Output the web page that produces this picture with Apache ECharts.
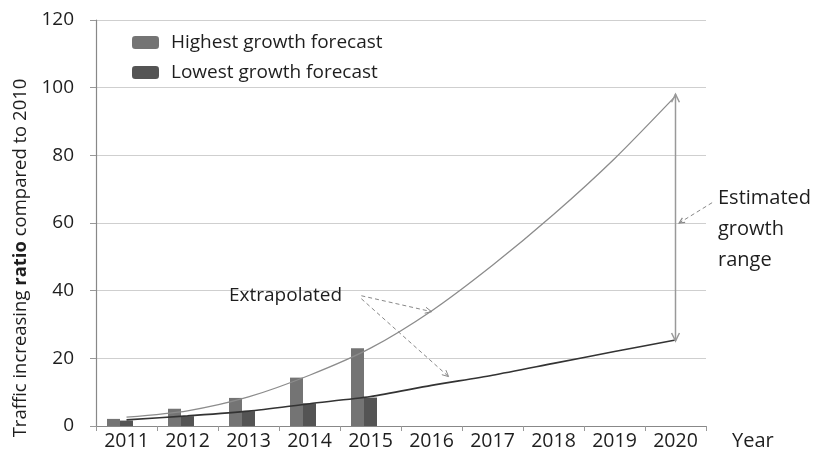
<!DOCTYPE html>
<html>
<head>
<meta charset="utf-8">
<script src="https://cdn.jsdelivr.net/npm/echarts@6/dist/echarts.min.js"></script>
<style>
html,body{margin:0;padding:0;background:#fff;}
#c{width:822px;height:468px;}
</style>
</head>
<body>
<div id="c"></div>
<script>
const years = ['2011','2012','2013','2014','2015','2016','2017','2018','2019','2020'];
const highestBars = [2.1, 5.1, 8.3, 14.3, 23.0];
const lowestBars = [1.6, 2.9, 4.4, 6.7, 8.4];
const upperLine = [2.6, 4.5, 8.6, 15.0, 23.0, 34.0, 47.5, 62.5, 79.0, 97.5];
const lowerLine = [1.8, 3.0, 4.4, 6.6, 8.7, 12.0, 15.0, 18.5, 22.0, 25.4];
const yTicks = [0, 120, 20];

const FONT = 'Open Sans';
const TXT = '#1e1e1e';
const chart = echarts.init(document.getElementById('c'));
chart.setOption({
  animation: false,
  backgroundColor: '#fff',
  textStyle: {fontFamily: FONT},
  grid: {left: 96, right: 116, top: 20, bottom: 42},
  legend: {
    orient: 'vertical', left: 127, top: 28,
    itemWidth: 27, itemHeight: 13, itemGap: 11,
    data: ['Highest growth forecast', 'Lowest growth forecast'],
    textStyle: {fontFamily: FONT, fontSize: 19, color: TXT, padding: [0,0,0,7]}
  },
  xAxis: {
    type: 'category', data: years, boundaryGap: true,
    name: 'Year', nameLocation: 'end', nameGap: 26,
    nameTextStyle: {fontFamily: FONT, fontSize: 20, color: TXT, verticalAlign: 'top', padding: [5,0,0,0]},
    axisLine: {lineStyle: {color: '#888', width: 1.2}},
    axisTick: {show: true, length: 5, lineStyle: {color: '#999'}},
    axisLabel: {fontFamily: FONT, fontSize: 19.5, color: TXT, margin: 5},
    splitLine: {show: false}
  },
  yAxis: {
    type: 'value', min: yTicks[0], max: yTicks[1], interval: yTicks[2],
    name: '{a|Traffic increasing }{b|ratio}{a| compared to 2010}',
    nameLocation: 'middle', nameGap: 60, nameRotate: 90,
    nameTextStyle: {fontFamily: FONT, fontSize: 18.5, color: TXT, padding: [0, 70, 0, 0],
      rich: {a: {fontFamily: FONT, fontSize: 18.5, color: TXT},
             b: {fontFamily: FONT, fontSize: 18.5, color: TXT, fontWeight: 'bold'}}},
    axisLine: {show: true, lineStyle: {color: '#888', width: 1.2}},
    axisTick: {show: true, length: 6, lineStyle: {color: '#999'}},
    axisLabel: {fontFamily: FONT, fontSize: 19, color: TXT, margin: 22},
    splitLine: {lineStyle: {color: '#cfcfcf', width: 1}}
  },
  series: [
    {name: 'Highest growth forecast', type: 'bar', data: highestBars, barWidth: 13, barGap: '0%',
     itemStyle: {color: '#747474'}},
    {name: 'Lowest growth forecast', type: 'bar', data: lowestBars, barWidth: 13, barGap: '0%',
     itemStyle: {color: '#545454'}},
    {name: 'spacer', type: 'bar', data: [], barWidth: 13, barGap: '0%'},
    {name: 'upper', type: 'line', data: upperLine, smooth: 0.25, showSymbol: false, z: 5,
     lineStyle: {color: '#8c8c8c', width: 1.3}},
    {name: 'lower', type: 'line', data: lowerLine, smooth: 0.25, showSymbol: false, z: 5,
     lineStyle: {color: '#333', width: 1.6}}
  ]
});

function px(i, v) {
  const a = chart.convertToPixel({gridIndex: 0}, [0, v]);
  const b = chart.convertToPixel({gridIndex: 0}, [1, v]);
  return [a[0] + (b[0] - a[0]) * i, a[1]];
}
function head(tip, from, size, color, w) {
  const dx = tip[0] - from[0], dy = tip[1] - from[1];
  const L = Math.sqrt(dx*dx + dy*dy);
  const ux = dx / L, uy = dy / L;
  const ang = 0.45;
  const p1 = [tip[0] - size*(ux*Math.cos(ang) - uy*Math.sin(ang)), tip[1] - size*(uy*Math.cos(ang) + ux*Math.sin(ang))];
  const p2 = [tip[0] - size*(ux*Math.cos(ang) + uy*Math.sin(ang)), tip[1] - size*(uy*Math.cos(ang) - ux*Math.sin(ang))];
  return {type: 'polyline', shape: {points: [p1, tip, p2]}, style: {stroke: color, lineWidth: w, fill: null}, z: 10};
}
function seg(a, b, color, w, dash) {
  return {type: 'line', shape: {x1: a[0], y1: a[1], x2: b[0], y2: b[1]},
    style: {stroke: color, lineWidth: w, lineDash: dash || null}, z: 10};
}

const n = years.length - 1;
const topP = px(n, upperLine[n]);
const botP = px(n, lowerLine[n]);
const exStart = px(3.85, 38.5);
const exEnd1 = px(5.0, 33.8);
const exEnd2 = px(5.28, 14.6);
const estStart = px(n + 0.6, 66.0);
const estEnd = px(n + 0.06, 60.0);

const g = [];
g.push(seg([topP[0], topP[1] - 2], [botP[0], botP[1] + 1], '#999', 1.5));
g.push(head([topP[0], topP[1] - 2], botP, 9, '#999', 1.5));
g.push(head([botP[0], botP[1] + 1], topP, 9, '#999', 1.5));
g.push(seg(exStart, exEnd1, '#888', 1, [4, 3]));
g.push(head(exEnd1, exStart, 7, '#888', 1));
g.push(seg([exStart[0], exStart[1] + 3], exEnd2, '#888', 1, [4, 3]));
g.push(head(exEnd2, [exStart[0], exStart[1] + 3], 7, '#888', 1));
g.push(seg(estStart, estEnd, '#888', 1, [4, 3]));
g.push(head(estEnd, estStart, 6, '#888', 1.2));
g.push({type: 'text', left: 229, top: 286, z: 10,
  style: {text: 'Extrapolated', fontFamily: FONT, fontSize: 19, fill: TXT}});
g.push({type: 'text', left: 718, top: 183, z: 10,
  style: {text: 'Estimated\ngrowth\nrange', fontFamily: FONT, fontSize: 20, lineHeight: 31, fill: TXT}});
chart.setOption({graphic: g});
</script>
</body>
</html>
